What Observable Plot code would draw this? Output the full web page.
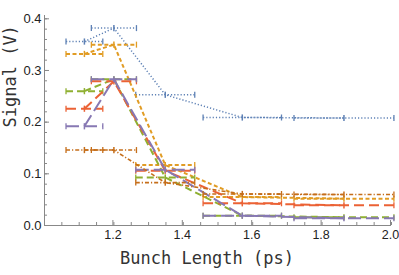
<!DOCTYPE html>
<html>
<head>
<meta charset="utf-8">
<script src="https://cdn.jsdelivr.net/npm/d3@7"></script>
<script src="https://cdn.jsdelivr.net/npm/@observablehq/plot@0.6"></script>
<style>
  html, body { margin: 0; padding: 0; background: #fff; }
  #chart svg { display: block; }
</style>
</head>
<body>
<div id="chart"></div>
<script>
// Bunch length (ps) of each measurement and its horizontal half-width
const xCenters = [1.115, 1.2, 1.348, 1.57, 1.863];
const xErrors  = [0.053, 0.065, 0.085, 0.113, 0.144];
// small vertical error (V)
const yError = 0.006;

const seriesNames = ["A", "B", "C", "D", "E", "F"];
const seriesA = [0.356, 0.382, 0.253, 0.209, 0.208];
const seriesB = [0.332, 0.350, 0.117, 0.055, 0.052];
const seriesC = [0.260, 0.283, 0.093, 0.019, 0.016];
const seriesD = [0.226, 0.279, 0.106, 0.043, 0.039];
const seriesE = [0.192, 0.283, 0.108, 0.019, 0.014];
const seriesF = [0.146, 0.146, 0.083, 0.061, 0.060];

const xTicks = [1.2, 1.4, 1.6, 1.8, 2.0];
const yTicks = [0.0, 0.1, 0.2, 0.3, 0.4];
const xLabel = "Bunch Length (ps)";
const yLabel = "Signal (V)";

const seriesValues = [seriesA, seriesB, seriesC, seriesD, seriesE, seriesF];
const colors = ["#5E81B5", "#E19C24", "#8FB032", "#EB6235", "#8778B3", "#C56E1A"];
const dashes = ["1.2,2", "4,2.5", "7,4", "10,5", "13,5", "4,2,1.2,2"];
const widths = [1.5, 2, 2, 2, 2, 1.6];

const vbar = {draw(ctx, size) { const r = Math.sqrt(size / Math.PI); ctx.moveTo(0, -r); ctx.lineTo(0, r); }};

const marks = [];
seriesValues.forEach((vals, s) => {
  const rows = vals.map((y, i) => ({series: seriesNames[s], x: xCenters[i], xe: xErrors[i], y}));
  const c = colors[s], da = dashes[s], w = widths[s];
  marks.push(
    Plot.line(rows, {x: "x", y: "y", stroke: c, strokeWidth: w, strokeDasharray: da, strokeLinecap: "butt", strokeLinejoin: "miter"}),
    Plot.link(rows, {x1: d => d.x - d.xe, x2: d => d.x + d.xe, y1: "y", y2: "y", stroke: c, strokeWidth: w, strokeDasharray: da, strokeLinecap: "butt"}),
    Plot.link(rows, {x1: "x", x2: "x", y1: d => d.y - yError, y2: d => d.y + yError, stroke: c, strokeWidth: 1.5}),
    Plot.dot(rows.flatMap(d => [{x: d.x - d.xe, y: d.y}, {x: d.x + d.xe, y: d.y}]), {x: "x", y: "y", symbol: vbar, r: 3, stroke: c, strokeWidth: 1.3, fill: "none"})
  );
});

const chart = Plot.plot({
  width: 399,
  height: 275,
  marginLeft: 44,
  marginRight: 8,
  marginTop: 15,
  marginBottom: 50,
  x: {domain: [1.0, 2.0]},
  y: {domain: [0, 0.4064]},
  style: {fontFamily: "'Liberation Sans', Arial, sans-serif", fontSize: "12px", color: "#333"},
  marks: [
    Plot.ruleX([1.0], {stroke: "#888", strokeWidth: 1}),
    Plot.ruleY([0], {stroke: "#888", strokeWidth: 1}),
    Plot.axisY({ticks: d3.range(0, 0.41, 0.02), tickSize: -3, tickFormat: () => "", label: null, stroke: "#888"}),
    Plot.axisY({ticks: yTicks, tickSize: -5, tickPadding: 8, tickFormat: d3.format(".1f"), label: null, stroke: "#888", fontSize: 13, fill: "#222"}),
    Plot.axisX({ticks: d3.range(1.05, 2.0001, 0.05), tickSize: -3, tickFormat: () => "", label: null, stroke: "#888"}),
    Plot.axisX({ticks: xTicks, tickSize: -5, tickPadding: 10, dx: -1, tickFormat: d3.format(".1f"), label: null, stroke: "#888", fontSize: 12.5, fill: "#222"}),
    Plot.text([xLabel], {frameAnchor: "bottom", dy: 38, dx: -11, fontFamily: "'DejaVu Sans Mono', monospace", fontSize: 17, fill: "#333"}),
    Plot.text([yLabel], {frameAnchor: "left", dx: -34, dy: 7, rotate: -90, fontFamily: "'DejaVu Sans Mono', monospace", fontSize: 17, fill: "#333"}),
    ...marks
  ]
});
document.getElementById("chart").append(chart);
</script>
</body>
</html>
